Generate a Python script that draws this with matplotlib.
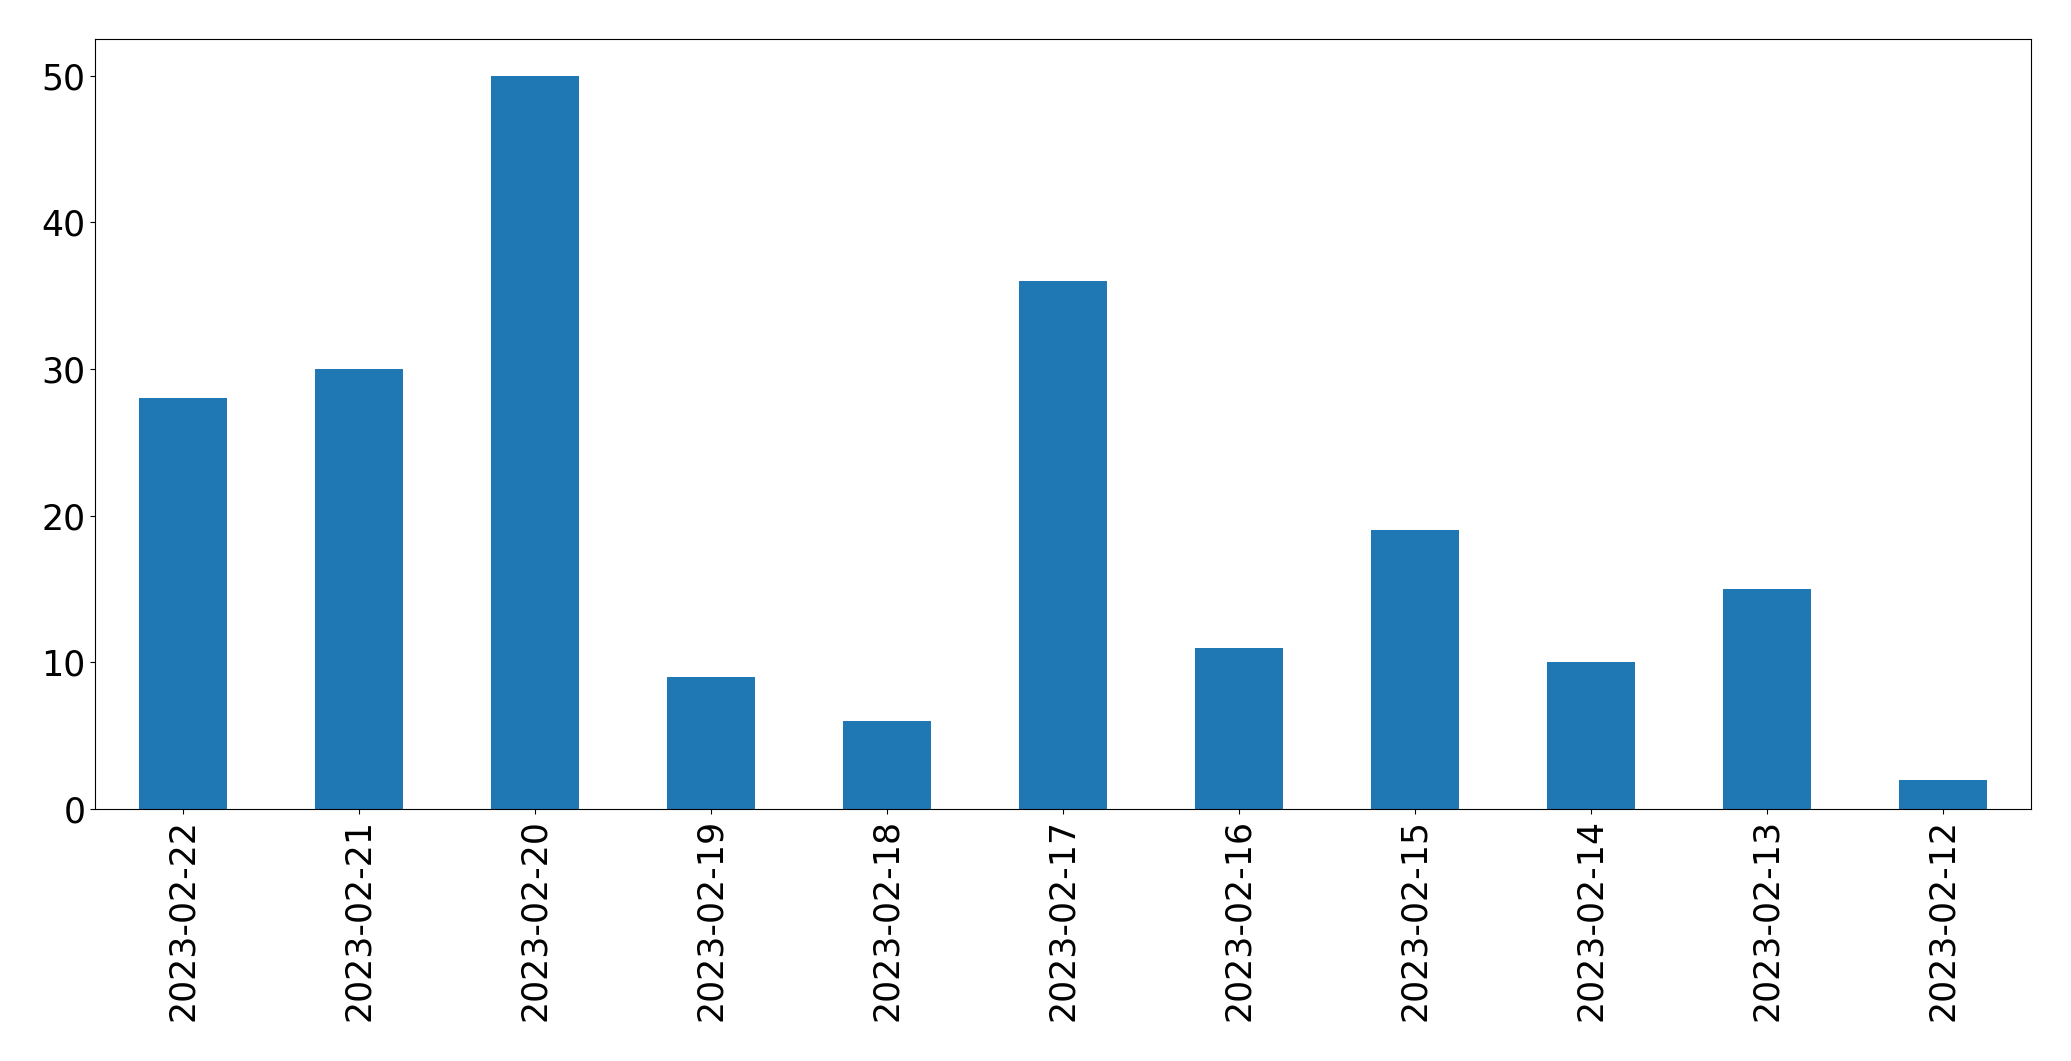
import matplotlib
matplotlib.use("Agg")
import matplotlib.pyplot as plt
import pandas as pd

dates = ['2023-02-22', '2023-02-21', '2023-02-20', '2023-02-19', '2023-02-18',
         '2023-02-17', '2023-02-16', '2023-02-15', '2023-02-14', '2023-02-13',
         '2023-02-12']
counts = [28, 30, 50, 9, 6, 36, 11, 19, 10, 15, 2]

s = pd.Series(counts, index=dates)

W, H = 2071, 1061
fig = plt.figure(figsize=(W / 100, H / 100), dpi=100)
ax = fig.add_axes([95 / W, 1 - 809 / H, (2031 - 95) / W, (809 - 39) / H])
s.plot(kind='bar', ax=ax, color='#1f77b4', fontsize=25)
ax.tick_params(labelsize=25)

fig.savefig('out.png', dpi=100)
